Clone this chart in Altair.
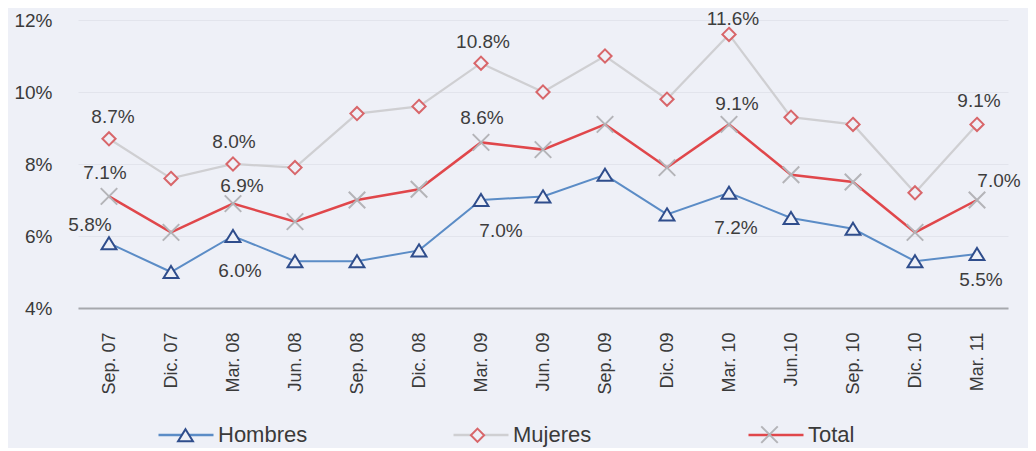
import altair as alt
import pandas as pd

periodos = ["Sep. 07", "Dic. 07", "Mar. 08", "Jun. 08", "Sep. 08", "Dic. 08", "Mar. 09",
            "Jun. 09", "Sep. 09", "Dic. 09", "Mar. 10", "Jun.10", "Sep. 10", "Dic. 10", "Mar. 11"]
hombres = [5.8, 5.0, 6.0, 5.3, 5.3, 5.6, 7.0, 7.1, 7.7, 6.6, 7.2, 6.5, 6.2, 5.3, 5.5]
mujeres = [8.7, 7.6, 8.0, 7.9, 9.4, 9.6, 10.8, 10.0, 11.0, 9.8, 11.6, 9.3, 9.1, 7.2, 9.1]
total = [7.1, 6.1, 6.9, 6.4, 7.0, 7.3, 8.6, 8.4, 9.1, 7.9, 9.1, 7.7, 7.5, 6.1, 7.0]
series = ["Hombres", "Mujeres", "Total"]
y_ticks = [4, 6, 8, 10, 12]

rows = []
for s, vals in zip(series, [hombres, mujeres, total]):
    for p, v in zip(periodos, vals):
        rows.append({"periodo": p, "serie": s, "marcador": s, "valor": v})
df = pd.DataFrame(rows)

BG = "#eef0f7"
FONT = "Liberation Sans"
line_colors = ["#5b8cc6", "#cfcfd2", "#e0474b"]
line_widths = [2, 2.5, 4]
marker_colors = ["#2f4d8c", "#d8666a", "#b4b4b8"]
marker_paths = [
    "M0,-0.22L0.27,0.22L-0.27,0.22Z",
    "M0,-0.24L0.24,0L0,0.24L-0.24,0Z",
    "M-0.3,-0.3L0.3,0.3M-0.3,0.3L0.3,-0.3",
]
SYM = 3025

x_enc = alt.X("periodo:N", sort=periodos,
              axis=alt.Axis(title=None, labelAngle=270, labelAlign="right", labelBaseline="middle",
                            labelFont=FONT, labelFontSize=18, labelColor="#3a3a3a", labelPadding=24,
                            ticks=False, domainColor="#a6a8ad", domainWidth=2, grid=False))
y_enc = alt.Y("valor:Q", scale=alt.Scale(domain=[4, 12], nice=False),
              axis=alt.Axis(title=None, values=y_ticks, labelExpr="datum.value + '%'",
                            labelFont=FONT, labelFontSize=19, labelColor="#3a3a3a", labelPadding=26,
                            ticks=False, domain=False, grid=True, gridColor="#e2e4ec", gridWidth=1))

base = alt.Chart(df)

legend_common = dict(orient="none", legendX=79, legendY=386, direction="horizontal", title=None,
                     symbolSize=SYM, labelFont=FONT, labelFontSize=22, labelColor="#3a3a3a",
                     labelOffset=3, gridAlign="all")

lines = base.mark_line().encode(
    x=x_enc, y=y_enc,
    color=alt.Color("serie:N", scale=alt.Scale(domain=series, range=line_colors),
                    legend=alt.Legend(symbolType="M-1,0H1", symbolStrokeWidth=2.5, columnPadding=140,
                                      **legend_common)),
    strokeWidth=alt.StrokeWidth("serie:N", scale=alt.Scale(domain=series, range=line_widths), legend=None),
)

marker_legend = alt.Legend(symbolFillColor=BG, symbolStrokeWidth=2, labelExpr="''", columnPadding=232,
                           **legend_common)

points = base.mark_point(filled=True, fill=BG, strokeWidth=2, size=SYM, opacity=1).encode(
    x=alt.X("periodo:N", sort=periodos),
    y="valor:Q",
    stroke=alt.Stroke("marcador:N", scale=alt.Scale(domain=series, range=marker_colors),
                      legend=marker_legend),
    shape=alt.Shape("marcador:N", scale=alt.Scale(domain=series, range=marker_paths),
                    legend=marker_legend),
)


def etiqueta(serie, periodo, dx, dy):
    return base.transform_filter(
        (alt.datum.serie == serie) & (alt.datum.periodo == periodo)
    ).transform_calculate(
        txt="format(datum.valor, '.1f') + '%'"
    ).mark_text(font=FONT, fontSize=19, color="#3d3d3d", dx=dx, dy=dy, baseline="middle").encode(
        x=alt.X("periodo:N", sort=periodos), y="valor:Q", text="txt:N"
    )


labels = [
    etiqueta("Mujeres", "Sep. 07", 4, -22),
    etiqueta("Mujeres", "Mar. 08", 1, -22),
    etiqueta("Mujeres", "Mar. 09", 2, -21),
    etiqueta("Mujeres", "Mar. 10", 4, -15),
    etiqueta("Mujeres", "Mar. 11", 2, -23),
    etiqueta("Total", "Sep. 07", -4, -23),
    etiqueta("Total", "Mar. 08", 9, -18),
    etiqueta("Total", "Mar. 09", 1, -24),
    etiqueta("Total", "Mar. 10", 8, -20),
    etiqueta("Total", "Mar. 11", 22, -19),
    etiqueta("Hombres", "Sep. 07", -19, -18),
    etiqueta("Hombres", "Mar. 08", 7, 35),
    etiqueta("Hombres", "Mar. 09", 20, 31),
    etiqueta("Hombres", "Mar. 10", 7, 35),
    etiqueta("Hombres", "Mar. 11", 4, 26),
]

chart = alt.layer(lines, points, *labels).resolve_legend(
    color="independent", stroke="independent", shape="independent"
).properties(
    width=930, height=288,
    autosize=alt.AutoSizeParams(type="none"),
    padding={"left": 70, "top": 12, "right": 20, "bottom": 140},
    background=BG,
).configure_view(stroke=None).configure_scale(pointPadding=0.5)

chart.save("out.html", embed_options={"renderer": "svg", "actions": False})
